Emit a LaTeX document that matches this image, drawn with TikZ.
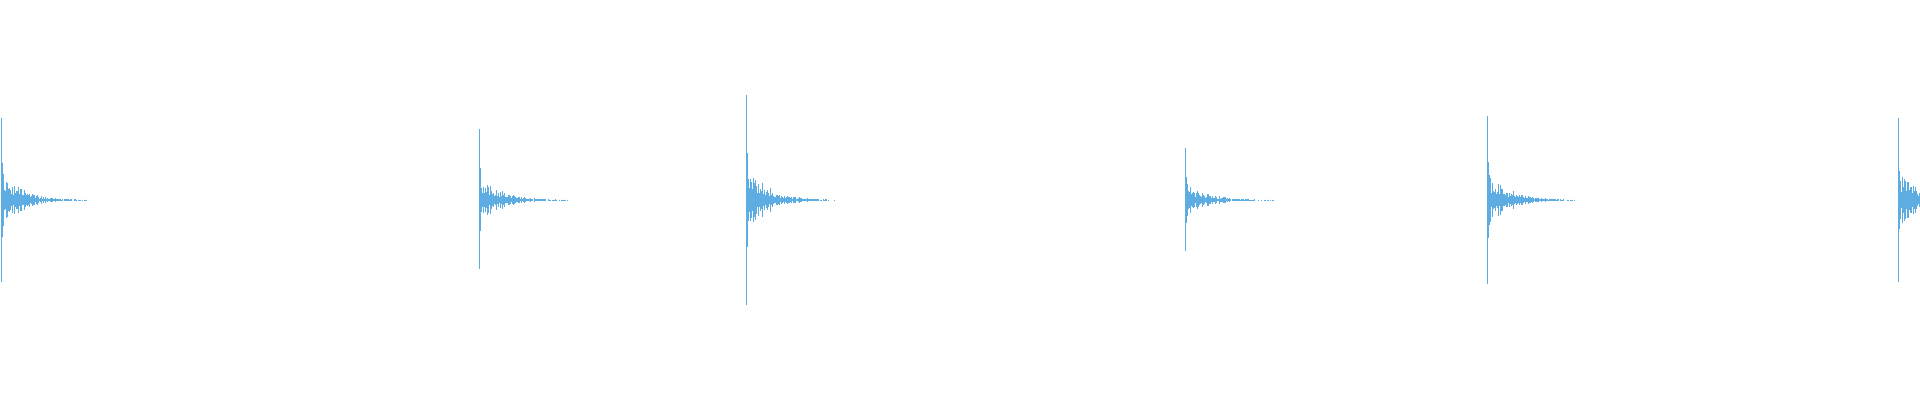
\documentclass[tikz,border=0pt]{standalone}
\definecolor{wave}{RGB}{93,172,226}
\tikzset{wv/.style={draw=wave,line width=1pt}}
\newcommand{\burst}[3]{% x, top, bottom
  \draw[wv] (#1,#2) -- (#1,#3);
  \draw[wv,line width=1.5pt] (#1+1,{200-(200-#2)*0.45}) -- (#1+1,{200+(#3-200)*0.45});
  \foreach \i in {2,...,88}{
    \pgfmathsetmacro{\a}{(200-#2)*0.32*exp(-\i/20)*(0.3+0.9*rnd)}
    \pgfmathparse{(\a<0.6 && rnd<0.4) ? 1 : 0}
    \ifnum\pgfmathresult=0
      \draw[wv] (#1+\i,{200-max(0.5,\a)}) -- (#1+\i,{200+max(0.5,\a)});
    \fi
  }
}
\begin{document}
\begin{tikzpicture}[x=1pt,y=-1pt]
\pgfmathsetseed{7}
\useasboundingbox (0,0) rectangle (1920,400);
\burst{1}{118}{282}
\burst{479}{129}{269}
\burst{746}{95}{305}
\burst{1185}{148}{251}
\burst{1487}{116}{284}
\draw[wv] (1898,118) -- (1898,282);
\foreach \i in {1,...,21}{
  \pgfmathsetmacro{\a}{82*0.32*exp(-\i/20)*(0.3+0.9*rnd)}
  \draw[wv] (1898+\i,200-\a) -- (1898+\i,200+\a);
}
\end{tikzpicture}
\end{document}
